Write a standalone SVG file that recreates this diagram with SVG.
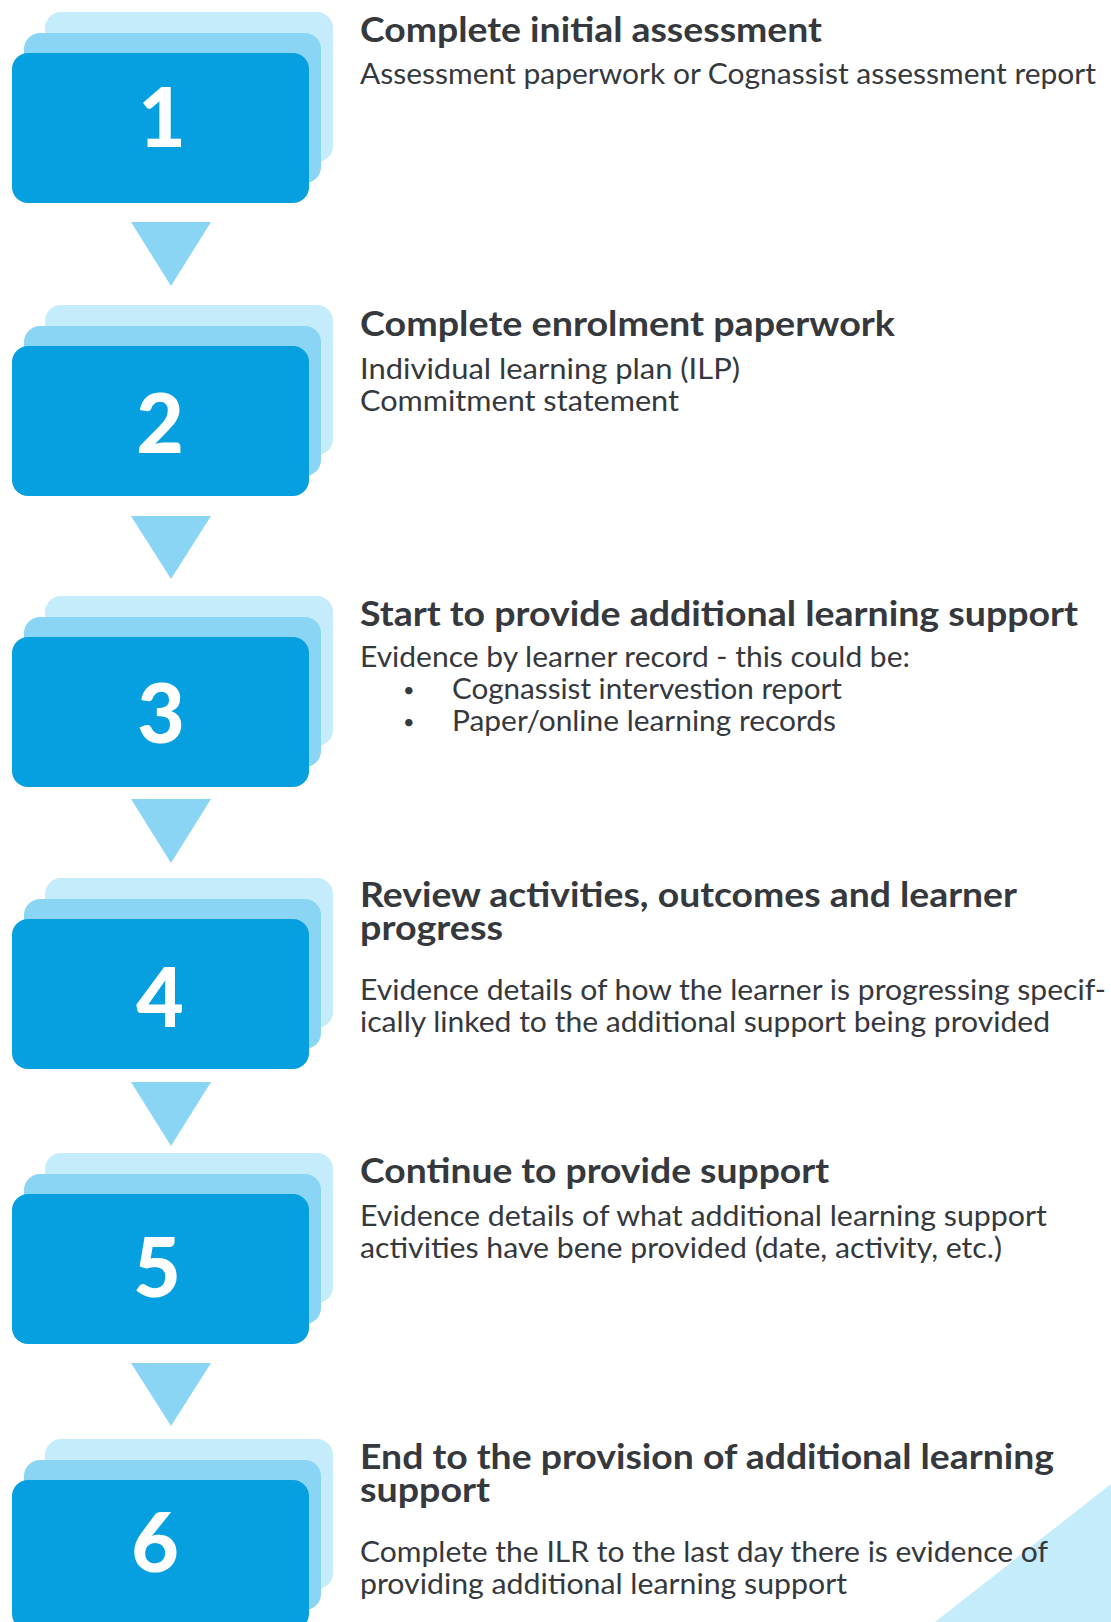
<svg xmlns="http://www.w3.org/2000/svg" width="1111" height="1622" viewBox="0 0 1111 1622">
  <defs>
    <style>
      .back { fill: #c4ecfb; }
      .mid { fill: #8bd5f4; }
      .front { fill: #06a0e0; }
      .arrow { fill: #8bd5f4; }
      .num { font-family: Lato, "Liberation Sans", sans-serif; font-weight: 900; font-size: 82px; fill: #ffffff; text-anchor: middle; }
      .head { font-family: Lato, "Liberation Sans", sans-serif; font-weight: 700; font-size: 34px; fill: #35383d; }
      .body { font-family: Lato, "Liberation Sans", sans-serif; font-weight: 400; font-size: 28px; fill: #35383d; }
      .dot { font-family: Lato, "Liberation Sans", sans-serif; font-size: 20px; fill: #35383d; }
    </style>
    <!-- stacked card: back, middle and front layers; front top at y=0 -->
    <g id="card">
      <rect class="back" x="45" y="-41" width="288" height="150" rx="16"/>
      <rect class="mid" x="24" y="-20" width="297" height="150" rx="16"/>
      <rect class="front" x="12" y="0" width="297" height="150" rx="16"/>
    </g>
  </defs>

  <rect width="1111" height="1622" fill="#ffffff"/>

  <!-- corner decoration -->
  <polygon points="1111,1484 1111,1622 935,1622" fill="#c4ecfb"/>

  <g id="connectors">
    <polygon class="arrow" points="131,222 211,222 171,286"/>
    <polygon class="arrow" points="131,516 211,516 171,579"/>
    <polygon class="arrow" points="131,799 211,799 171,863"/>
    <polygon class="arrow" points="131,1082 211,1082 171,1146"/>
    <polygon class="arrow" points="131,1363 211,1363 171,1426"/>
  </g>

  <g id="step1">
    <use href="#card" y="53"/>
    <text class="num" x="162" y="147">1</text>
    <text class="head" x="360" y="42" textLength="462" lengthAdjust="spacingAndGlyphs">Complete initial assessment</text>
    <text class="body" x="360" y="84" textLength="736" lengthAdjust="spacingAndGlyphs">Assessment paperwork or Cognassist assessment report</text>
  </g>

  <g id="step2">
    <use href="#card" y="346"/>
    <text class="num" x="160" y="453">2</text>
    <text class="head" x="360" y="336" textLength="535" lengthAdjust="spacingAndGlyphs">Complete enrolment paperwork</text>
    <text class="body" x="360" y="379" textLength="380" lengthAdjust="spacingAndGlyphs">Individual learning plan (ILP)</text>
    <text class="body" x="360" y="411" textLength="319" lengthAdjust="spacingAndGlyphs">Commitment statement</text>
  </g>

  <g id="step3">
    <use href="#card" y="637"/>
    <text class="num" x="161" y="743">3</text>
    <text class="head" x="360" y="626" textLength="718" lengthAdjust="spacingAndGlyphs">Start to provide additional learning support</text>
    <text class="body" x="360" y="667" textLength="550" lengthAdjust="spacingAndGlyphs">Evidence by learner record - this could be:</text>
    <text class="dot" x="403" y="697">•</text>
    <text class="body" x="452" y="699" textLength="390" lengthAdjust="spacingAndGlyphs">Cognassist intervestion report</text>
    <text class="dot" x="403" y="729">•</text>
    <text class="body" x="452" y="731" textLength="384" lengthAdjust="spacingAndGlyphs">Paper/online learning records</text>
  </g>

  <g id="step4">
    <use href="#card" y="919"/>
    <text class="num" x="160" y="1027">4</text>
    <text class="head" x="360" y="907" textLength="657" lengthAdjust="spacingAndGlyphs">Review activities, outcomes and learner</text>
    <text class="head" x="360" y="940" textLength="143" lengthAdjust="spacingAndGlyphs">progress</text>
    <text class="body" x="360" y="1000" textLength="746" lengthAdjust="spacingAndGlyphs">Evidence details of how the learner is progressing specif-</text>
    <text class="body" x="360" y="1032" textLength="690" lengthAdjust="spacingAndGlyphs">ically linked to the additional support being provided</text>
  </g>

  <g id="step5">
    <use href="#card" y="1194"/>
    <text class="num" x="157" y="1297">5</text>
    <text class="head" x="360" y="1183" textLength="469" lengthAdjust="spacingAndGlyphs">Continue to provide support</text>
    <text class="body" x="360" y="1226" textLength="687" lengthAdjust="spacingAndGlyphs">Evidence details of what additional learning support</text>
    <text class="body" x="360" y="1258" textLength="642" lengthAdjust="spacingAndGlyphs">activities have bene provided (date, activity, etc.)</text>
  </g>

  <g id="step6">
    <use href="#card" y="1480"/>
    <text class="num" x="155" y="1572">6</text>
    <text class="head" x="360" y="1469" textLength="694" lengthAdjust="spacingAndGlyphs">End to the provision of additional learning</text>
    <text class="head" x="360" y="1502" textLength="130" lengthAdjust="spacingAndGlyphs">support</text>
    <text class="body" x="360" y="1562" textLength="688" lengthAdjust="spacingAndGlyphs">Complete the ILR to the last day there is evidence of</text>
    <text class="body" x="360" y="1594" textLength="487" lengthAdjust="spacingAndGlyphs">providing additional learning support</text>
  </g>
</svg>
